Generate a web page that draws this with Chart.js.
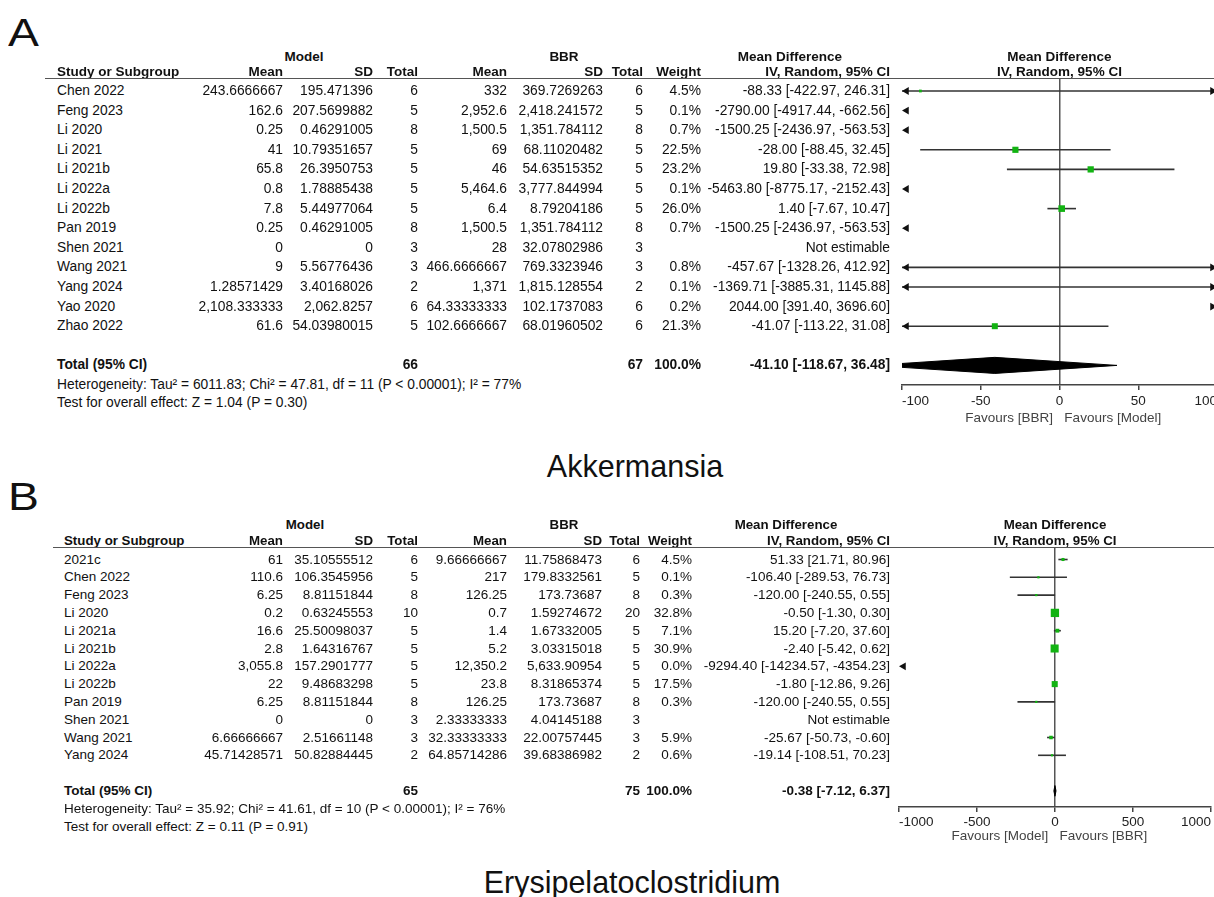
<!DOCTYPE html>
<html><head><meta charset="utf-8">
<script src="https://cdn.jsdelivr.net/npm/chart.js@4.4.1/dist/chart.umd.min.js"></script>
<style>
html,body{margin:0;padding:0;width:1214px;height:897px;overflow:hidden;background:#fff;}
body{position:relative;font-family:'Liberation Sans',Arial,sans-serif;color:#111;}
.t{position:absolute;white-space:nowrap;line-height:16px;height:16px;}
.hl{position:absolute;height:0;border-top:1.5px solid #555;}
canvas{position:absolute;}
</style></head><body>
<canvas id="cA"></canvas><canvas id="cB"></canvas>
<script>
// ---------- Panel A: Akkermansia ----------
const studiesA = ["Chen 2022","Feng 2023","Li 2020","Li 2021","Li 2021b","Li 2022a","Li 2022b","Pan 2019","Shen 2021","Wang 2021","Yang 2024","Yao 2020","Zhao 2022"];
const modelMeanA = ["243.6666667","162.6","0.25","41","65.8","0.8","7.8","0.25","0","9","1.28571429","2,108.333333","61.6"];
const modelSDA = ["195.471396","207.5699882","0.46291005","10.79351657","26.3950753","1.78885438","5.44977064","0.46291005","0","5.56776436","3.40168026","2,062.8257","54.03980015"];
const modelNA = [6,5,8,5,5,5,5,8,3,3,2,6,5];
const bbrMeanA = ["332","2,952.6","1,500.5","69","46","5,464.6","6.4","1,500.5","28","466.6666667","1,371","64.33333333","102.6666667"];
const bbrSDA = ["369.7269263","2,418.241572","1,351.784112","68.11020482","54.63515352","3,777.844994","8.79204186","1,351.784112","32.07802986","769.3323946","1,815.128554","102.1737083","68.01960502"];
const bbrNA = [6,5,8,5,5,5,5,8,3,3,2,6,6];
const weightA = [4.5,0.1,0.7,22.5,23.2,0.1,26.0,0.7,null,0.8,0.1,0.2,21.3];
const mdA = [-88.33,-2790.00,-1500.25,-28.00,19.80,-5463.80,1.40,-1500.25,null,-457.67,-1369.71,2044.00,-41.07];
const loA = [-422.97,-4917.44,-2436.97,-88.45,-33.38,-8775.17,-7.67,-2436.97,null,-1328.26,-3885.31,391.40,-113.22];
const hiA = [246.31,-662.56,-563.53,32.45,72.98,-2152.43,10.47,-563.53,null,412.92,1145.88,3696.60,31.08];
const totalNA = [66,67];
const totalEffA = [-41.10,-118.67,36.48];
const hetA = "Heterogeneity: Tau² = 6011.83; Chi² = 47.81, df = 11 (P < 0.00001); I² = 77%";
const testA = "Test for overall effect: Z = 1.04 (P = 0.30)";
const ticksA = [-100,-50,0,50,100];
const favoursA = "  Favours [BBR]   Favours [Model]";

// ---------- Panel B: Erysipelatoclostridium ----------
const studiesB = ["2021c","Chen 2022","Feng 2023","Li 2020","Li 2021a","Li 2021b","Li 2022a","Li 2022b","Pan 2019","Shen 2021","Wang 2021","Yang 2024"];
const modelMeanB = ["61","110.6","6.25","0.2","16.6","2.8","3,055.8","22","6.25","0","6.66666667","45.71428571"];
const modelSDB = ["35.10555512","106.3545956","8.81151844","0.63245553","25.50098037","1.64316767","157.2901777","9.48683298","8.81151844","0","2.51661148","50.82884445"];
const modelNB = [6,5,8,10,5,5,5,5,8,3,3,2];
const bbrMeanB = ["9.66666667","217","126.25","0.7","1.4","5.2","12,350.2","23.8","126.25","2.33333333","32.33333333","64.85714286"];
const bbrSDB = ["11.75868473","179.8332561","173.73687","1.59274672","1.67332005","3.03315018","5,633.90954","8.31865374","173.73687","4.04145188","22.00757445","39.68386982"];
const bbrNB = [6,5,8,20,5,5,5,5,8,3,3,2];
const weightB = [4.5,0.1,0.3,32.8,7.1,30.9,0.0,17.5,0.3,null,5.9,0.6];
const mdB = [51.33,-106.40,-120.00,-0.50,15.20,-2.40,-9294.40,-1.80,-120.00,null,-25.67,-19.14];
const loB = [21.71,-289.53,-240.55,-1.30,-7.20,-5.42,-14234.57,-12.86,-240.55,null,-50.73,-108.51];
const hiB = [80.96,76.73,0.55,0.30,37.60,0.62,-4354.23,9.26,0.55,null,-0.60,70.23];
const totalNB = [65,75];
const totalEffB = [-0.38,-7.12,6.37];
const hetB = "Heterogeneity: Tau² = 35.92; Chi² = 41.61, df = 10 (P < 0.00001); I² = 76%";
const testB = "Test for overall effect: Z = 0.11 (P = 0.91)";
const ticksB = [-1000,-500,0,500,1000];
const favoursB = "Favours [Model]   Favours [BBR]   ";

// ---------- helpers ----------
function put(txt, x, y, align, size, bold, extra) {
  const d = document.createElement('div');
  d.className = 't';
  d.textContent = txt;
  d.style.top = (y - 8) + 'px';
  d.style.fontSize = size + 'px';
  if (bold) d.style.fontWeight = 'bold';
  if (align === 'left') { d.style.left = x + 'px'; }
  else if (align === 'right') { d.style.left = (x - 500) + 'px'; d.style.width = '500px'; d.style.textAlign = 'right'; }
  else { d.style.left = (x - 400) + 'px'; d.style.width = '800px'; d.style.textAlign = 'center'; }
  if (extra) Object.assign(d.style, extra);
  document.body.appendChild(d);
}
const fmtCI = (m, l, h) => m.toFixed(2) + ' [' + l.toFixed(2) + ', ' + h.toFixed(2) + ']';
const FONT = "'Liberation Sans', Arial, sans-serif";

function panel(P, L) {
  put(L.letter, 8, L.letterY, 'left', 38, false, {lineHeight:'44px', height:'44px', top:(L.letterY-22)+'px', transform:'scaleX(1.22)', transformOrigin:'left center'});
  put(L.title, L.titleX, L.titleY, 'center', 30.5, false, {lineHeight:'36px', height:'36px', top:(L.titleY-18)+'px'});
  const C = L.cols, fs = L.fs, hs = L.hs;
  put('Model', L.grpModel, L.grpY, 'center', hs, true);
  put('BBR', L.grpBBR, L.grpY, 'center', hs, true);
  put('Mean Difference', L.grpMD, L.grpY, 'center', hs, true);
  const zeroPx = L.left + (0 - L.xMin) * (L.right - L.left) / (L.xMax - L.xMin);
  put('Mean Difference', zeroPx, L.grpY, 'center', hs, true);
  put('Study or Subgroup', C.study, L.hdrY, 'left', hs, true);
  put('Mean', C.mMean, L.hdrY, 'right', hs, true);
  put('SD', C.mSD, L.hdrY, 'right', hs, true);
  put('Total', C.mN, L.hdrY, 'right', hs, true);
  put('Mean', C.bMean, L.hdrY, 'right', hs, true);
  put('SD', C.bSD, L.hdrY, 'right', hs, true);
  put('Total', C.bN, L.hdrY, 'right', hs, true);
  put('Weight', C.w, L.hdrY, 'right', hs, true);
  put('IV, Random, 95% CI', C.ci, L.hdrY, 'right', hs, true);
  put('IV, Random, 95% CI', zeroPx, L.hdrY, 'center', hs, true);
  const hl = document.createElement('div');
  hl.className = 'hl';
  hl.style.left = L.lineX + 'px'; hl.style.width = (1214 - L.lineX) + 'px'; hl.style.top = (L.top - 1) + 'px';
  document.body.appendChild(hl);
  const n = P.studies.length;
  for (let i = 0; i < n; i++) {
    const y = L.row0 + i * L.rowH;
    put(P.studies[i], C.study, y, 'left', fs);
    put(P.mMean[i], C.mMean, y, 'right', fs);
    put(P.mSD[i], C.mSD, y, 'right', fs);
    put(String(P.mN[i]), C.mN, y, 'right', fs);
    put(P.bMean[i], C.bMean, y, 'right', fs);
    put(P.bSD[i], C.bSD, y, 'right', fs);
    put(String(P.bN[i]), C.bN, y, 'right', fs);
    if (P.w[i] !== null) put(P.w[i].toFixed(1) + '%', C.w, y, 'right', fs);
    put(P.md[i] === null ? 'Not estimable' : fmtCI(P.md[i], P.lo[i], P.hi[i]), C.ci, y, 'right', fs);
  }
  const ty = L.row0 + (n + 1) * L.rowH;
  put('Total (95% CI)', C.study, ty, 'left', fs, true);
  put(String(P.totN[0]), C.mN, ty, 'right', fs, true);
  put(String(P.totN[1]), C.bN, ty, 'right', fs, true);
  put('100.0%', C.w, ty, 'right', fs, true);
  put(fmtCI(P.tot[0], P.tot[1], P.tot[2]), C.ci, ty, 'right', fs, true);
  put(P.het, C.study, L.hetY, 'left', fs);
  put(P.test, C.study, L.testY, 'left', fs);

  // ---------- forest chart ----------
  const pxPerUnit = (L.right - L.left) / (L.xMax - L.xMin);
  const arrowR = 4.5;
  const off = arrowR / pxPerUnit;
  const lineSets = [], leftArr = [], rightArr = [], squares = [], radii = [];
  for (let i = 0; i < n; i++) {
    if (P.md[i] === null) continue;
    const a = Math.max(P.lo[i], L.xMin), b = Math.min(P.hi[i], L.xMax);
    if (b > a) lineSets.push({type:'line', data:[{x:a, y:i}, {x:b, y:i}], borderColor:'#333', borderWidth:1.6, pointRadius:0, order:2, clip:false});
    if (P.lo[i] < L.xMin) leftArr.push({x: L.xMin + off, y: i});
    if (P.hi[i] > L.xMax) rightArr.push({x: L.xMax - off, y: i});
    if (P.md[i] >= L.xMin && P.md[i] <= L.xMax) {
      squares.push({x: P.md[i], y: i});
      radii.push(Math.max(2.2, L.sq * Math.sqrt(P.w[i])) / Math.SQRT2);
    }
  }
  const tr = n + 1, h = L.diaH;
  const diamond = {type:'line', data:[{x:P.tot[1], y:tr}, {x:P.tot[0], y:tr - h}, {x:P.tot[2], y:tr}, {x:P.tot[0], y:tr + h}, {x:P.tot[1], y:tr}],
    borderColor:'#000', borderWidth:1, backgroundColor:'#000', fill:'shape', pointRadius:0, tension:0, order:3};
  const datasets = [
    {type:'scatter', data:squares, pointStyle:'rect', pointRadius:radii, backgroundColor:'#12b312', borderWidth:0, order:0},
    {type:'scatter', data:leftArr, pointStyle:'triangle', rotation:270, pointRadius:arrowR, backgroundColor:'#111', borderWidth:0, order:1, clip:false},
    {type:'scatter', data:rightArr, pointStyle:'triangle', rotation:90, pointRadius:arrowR, backgroundColor:'#111', borderWidth:0, order:1, clip:false},
    ...lineSets, diamond
  ];
  const cv = document.getElementById(L.canvas);
  const padL = 30, padR = 30, padT = 20;
  const W = (L.right - L.left) + padL + padR;
  const H = (L.bottom - L.top) + padT + L.axisH;
  cv.width = W; cv.height = H;
  cv.style.width = W + 'px'; cv.style.height = H + 'px';
  cv.style.left = (L.left - padL) + 'px'; cv.style.top = (L.top - padT) + 'px';
  const yMin = (L.top - L.row0) / L.rowH, yMax = (L.bottom - L.row0) / L.rowH;
  new Chart(cv, {
    type: 'scatter',
    data: {datasets},
    options: {
      responsive:false, animation:false, devicePixelRatio:1,
      layout:{padding:{left:padL, right:padR, top:padT, bottom:0}},
      plugins:{legend:{display:false}, tooltip:{enabled:false}},
      events: [],
      scales:{
        x:{type:'linear', min:L.xMin, max:L.xMax,
          afterBuildTicks: s => { s.ticks = P.ticks.map(v => ({value:v})); },
          afterFit: s => { s.height = L.axisH; },
          ticks:{callback: v => String(v), color:'#222', font:{family:FONT, size:13.5}, padding:L.tickPad, maxRotation:0, autoSkip:false, align:'inner'},
          grid:{color: c => (c.tick && c.tick.value === 0) ? '#555' : 'rgba(0,0,0,0)', lineWidth:1.5, tickColor:'#444', tickLength:5, drawTicks:true},
          border:{display:true, color:'#444', width:1.5},
          title:{display:true, text:P.favours, color:'#444', font:{family:FONT, size:13.5}, padding:{top:0, bottom:0}}
        },
        y:{type:'linear', display:false, reverse:true, min:yMin, max:yMax}
      }
    }
  });
}

const colsA = {study:57, mMean:283, mSD:373, mN:418, bMean:507, bSD:603, bN:643, w:701, ci:890};
panel(
  {studies:studiesA, mMean:modelMeanA, mSD:modelSDA, mN:modelNA, bMean:bbrMeanA, bSD:bbrSDA, bN:bbrNA, w:weightA, md:mdA, lo:loA, hi:hiA,
   totN:totalNA, tot:totalEffA, het:hetA, test:testA, ticks:ticksA, favours:favoursA},
  {canvas:'cA', letter:'A', letterY:33, title:'Akkermansia', titleX:635, titleY:466,
   cols:colsA, fs:13.8, hs:13.5, grpY:57, hdrY:72, grpModel:304, grpBBR:564, grpMD:790, lineX:45,
   row0:91, rowH:19.6, hetY:385, testY:403,
   xMin:-100, xMax:100, left:902, right:1217, top:79, bottom:385, axisH:41, tickPad:3, sq:1.3, diaH:0.41}
);
const colsB = {study:64, mMean:283, mSD:373, mN:418, bMean:507, bSD:602, bN:640, w:692, ci:890};
panel(
  {studies:studiesB, mMean:modelMeanB, mSD:modelSDB, mN:modelNB, bMean:bbrMeanB, bSD:bbrSDB, bN:bbrNB, w:weightB, md:mdB, lo:loB, hi:hiB,
   totN:totalNB, tot:totalEffB, het:hetB, test:testB, ticks:ticksB, favours:favoursB},
  {canvas:'cB', letter:'B', letterY:497, title:'Erysipelatoclostridium', titleX:632, titleY:882,
   cols:colsB, fs:13.5, hs:13.3, grpY:525, hdrY:541, grpModel:305, grpBBR:564, grpMD:786, lineX:53,
   row0:559.5, rowH:17.8, hetY:809, testY:827,
   xMin:-1000, xMax:1000, left:899, right:1211, top:548, bottom:807, axisH:37, tickPad:2, sq:1.45, diaH:0.3}
);
</script>
</body></html>
